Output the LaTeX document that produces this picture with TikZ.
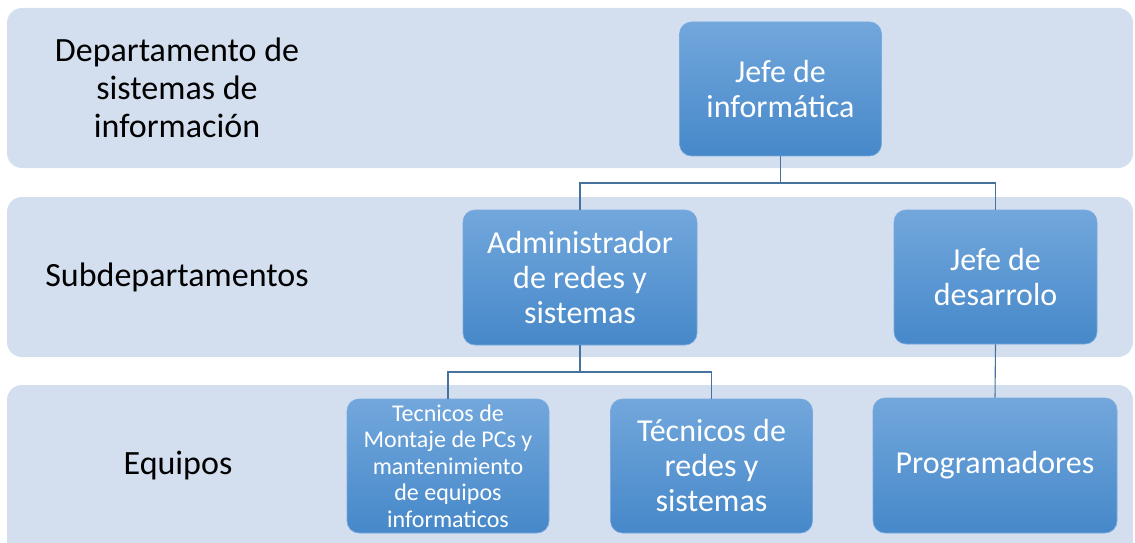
\documentclass[tikz,border=0pt]{standalone}
\usepackage{fontspec}
\setmainfont{Carlito}
\definecolor{bandfill}{RGB}{211,222,239}
\definecolor{boxtop}{RGB}{114,167,220}
\definecolor{boxmid}{RGB}{88,154,216}
\definecolor{boxbot}{RGB}{70,136,201}
\definecolor{boxedge}{RGB}{120,170,222}
\definecolor{linkcol}{RGB}{70,115,158}
\tikzset{
  band/.style={fill=bandfill, draw=none, rounded corners=15pt},
  orgbox/.style={rounded corners=12pt, top color=boxtop, middle color=boxmid, bottom color=boxbot,
    draw=boxedge, line width=0.6pt, text=white, align=center, inner sep=0pt},
  bigtext/.style={font=\fontsize{32}{35}\selectfont},
  smalltext/.style={font=\fontsize{24}{26.5}\selectfont},
  lbl/.style={align=center, text=black, font=\fontsize{34}{38}\selectfont, inner sep=0pt},
  link/.style={draw=linkcol, line width=1.1pt}
}
\begin{document}
\begin{tikzpicture}[x=1pt,y=1pt]
\useasboundingbox (0,0) rectangle (1135,542);
\clip (0,0) rectangle (1135,542);
% bands
\path[band] (7,374) rectangle (1133,534);
\path[band] (7,185) rectangle (1133,345);
\path[band] (7,-30) rectangle (1133,157);
% labels
\node[lbl] (l1) at (177,454) {Departamento de\\sistemas de\\información};
\node[lbl] (l2) at (177,265) {Subdepartamentos};
\node[lbl] (l3) at (178,76) {Equipos};
% boxes
\node[orgbox, bigtext, minimum width=202pt, minimum height=134pt] (jinf) at (780.5,453) {Jefe de\\informática};
\node[orgbox, bigtext, minimum width=234pt, minimum height=135pt] (admin) at (580,264.5) {Administrador\\de redes y\\sistemas};
\node[orgbox, bigtext, minimum width=203pt, minimum height=134pt] (jdes) at (995.5,265) {Jefe de\\desarrolo};
\node[orgbox, smalltext, minimum width=202pt, minimum height=134pt] (tmon) at (448,76) {Tecnicos de\\Montaje de PCs y\\mantenimiento\\de equipos\\informaticos};
\node[orgbox, bigtext, minimum width=202pt, minimum height=134pt] (tred) at (711.5,76) {Técnicos de\\redes y\\sistemas};
\node[orgbox, bigtext, minimum width=244pt, minimum height=135pt] (prog) at (995,76.5) {Programadores};
% connectors
\coordinate (b1) at (780.5,359);
\coordinate (b2) at (580,170);
\draw[link] (jinf.south) -- (b1);
\draw[link] (admin.north) |- (b1) -| (jdes.north);
\draw[link] (admin.south) -- (b2);
\draw[link] (tmon.north) |- (b2) -| (tred.north);
\draw[link] (jdes.south) -- (prog.north);
\end{tikzpicture}
\end{document}
